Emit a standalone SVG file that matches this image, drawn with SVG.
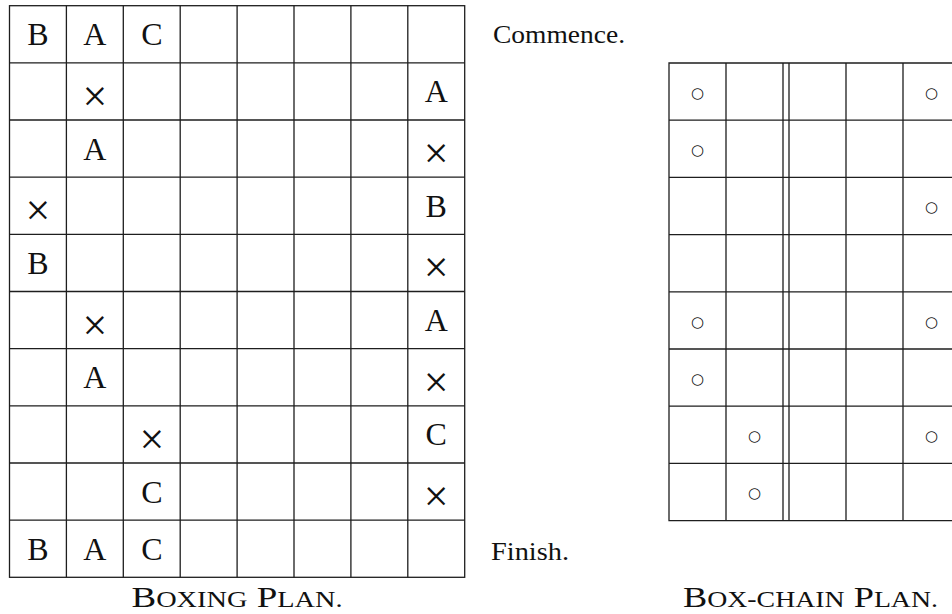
<svg xmlns="http://www.w3.org/2000/svg" width="952" height="614" viewBox="0 0 952 614">
<style>
.g{stroke:#1e1e1e;stroke-width:1.3;fill:none}
.t{font-family:"Liberation Serif","Times New Roman",serif;font-size:32px;fill:#111;text-anchor:middle}
.x{font-family:"Liberation Serif","Times New Roman",serif;font-size:44px;fill:#111;text-anchor:middle}
.o{font-family:"DejaVu Sans",sans-serif;font-size:15px;fill:#111;text-anchor:middle}
.n{font-family:"Liberation Serif","Times New Roman",serif;font-size:25px;fill:#111}
.c{font-family:"Liberation Serif","Times New Roman",serif;font-size:30px;fill:#111;text-anchor:middle}
.s{font-size:23px}
</style>
<rect width="952" height="614" fill="#fff"/>
<g id="boxing-plan">
<g class="g">
<rect x="9.5" y="5.7" width="455.2" height="571.6"/>
<path d="M66.4 5.7V577.3M123.3 5.7V577.3M180.2 5.7V577.3M237.1 5.7V577.3M294 5.7V577.3M350.9 5.7V577.3M407.8 5.7V577.3"/>
<path d="M9.5 62.9H464.7M9.5 120H464.7M9.5 177.2H464.7M9.5 234.3H464.7M9.5 291.5H464.7M9.5 348.7H464.7M9.5 405.8H464.7M9.5 463H464.7M9.5 520.1H464.7"/>
</g>
<g>
<text class="t" x="38" y="45.3">B</text>
<text class="t" x="94.9" y="45.3">A</text>
<text class="t" x="151.8" y="45.3">C</text>
<text class="x" x="94.9" y="110.9">×</text>
<text class="t" x="436.2" y="102.4">A</text>
<text class="t" x="94.9" y="159.6">A</text>
<text class="x" x="436.2" y="168.1">×</text>
<text class="x" x="38" y="225.2">×</text>
<text class="t" x="436.2" y="216.7">B</text>
<text class="t" x="38" y="273.9">B</text>
<text class="x" x="436.2" y="282.4">×</text>
<text class="x" x="94.9" y="339.6">×</text>
<text class="t" x="436.2" y="331.1">A</text>
<text class="t" x="94.9" y="388.2">A</text>
<text class="x" x="436.2" y="396.7">×</text>
<text class="x" x="151.8" y="453.9">×</text>
<text class="t" x="436.2" y="445.4">C</text>
<text class="t" x="151.8" y="502.5">C</text>
<text class="x" x="436.2" y="511">×</text>
<text class="t" x="38" y="559.7">B</text>
<text class="t" x="94.9" y="559.7">A</text>
<text class="t" x="151.8" y="559.7">C</text>
</g>
<text class="n" x="493" y="43.3" textLength="132" lengthAdjust="spacingAndGlyphs">Commence.</text>
<text class="n" x="491" y="560" textLength="78" lengthAdjust="spacingAndGlyphs">Finish.</text>
<text class="c" x="237" y="606.5" textLength="211" lengthAdjust="spacingAndGlyphs">B<tspan class="s">OXING</tspan> P<tspan class="s">LAN.</tspan></text>
</g>
<g id="box-chain-plan">
<g class="g">
<path d="M952 63H669V520.6H952"/>
<path d="M726 63V520.6M783 63V520.6M789 63V520.6M846 63V520.6M903 63V520.6"/>
<path d="M669 120.2H952M669 177.4H952M669 234.6H952M669 291.8H952M669 349H952M669 406.2H952M669 463.4H952"/>
</g>
<g>
<text class="o" x="697.5" y="98">○</text>
<text class="o" x="931.5" y="98">○</text>
<text class="o" x="697.5" y="155.2">○</text>
<text class="o" x="931.5" y="212.4">○</text>
<text class="o" x="697.5" y="326.8">○</text>
<text class="o" x="931.5" y="326.8">○</text>
<text class="o" x="697.5" y="384">○</text>
<text class="o" x="754.5" y="441.2">○</text>
<text class="o" x="931.5" y="441.2">○</text>
<text class="o" x="754.5" y="498.4">○</text>
</g>
<text class="c" x="810.5" y="607" textLength="255" lengthAdjust="spacingAndGlyphs">B<tspan class="s">OX-CHAIN</tspan> P<tspan class="s">LAN.</tspan></text>
</g>
</svg>
